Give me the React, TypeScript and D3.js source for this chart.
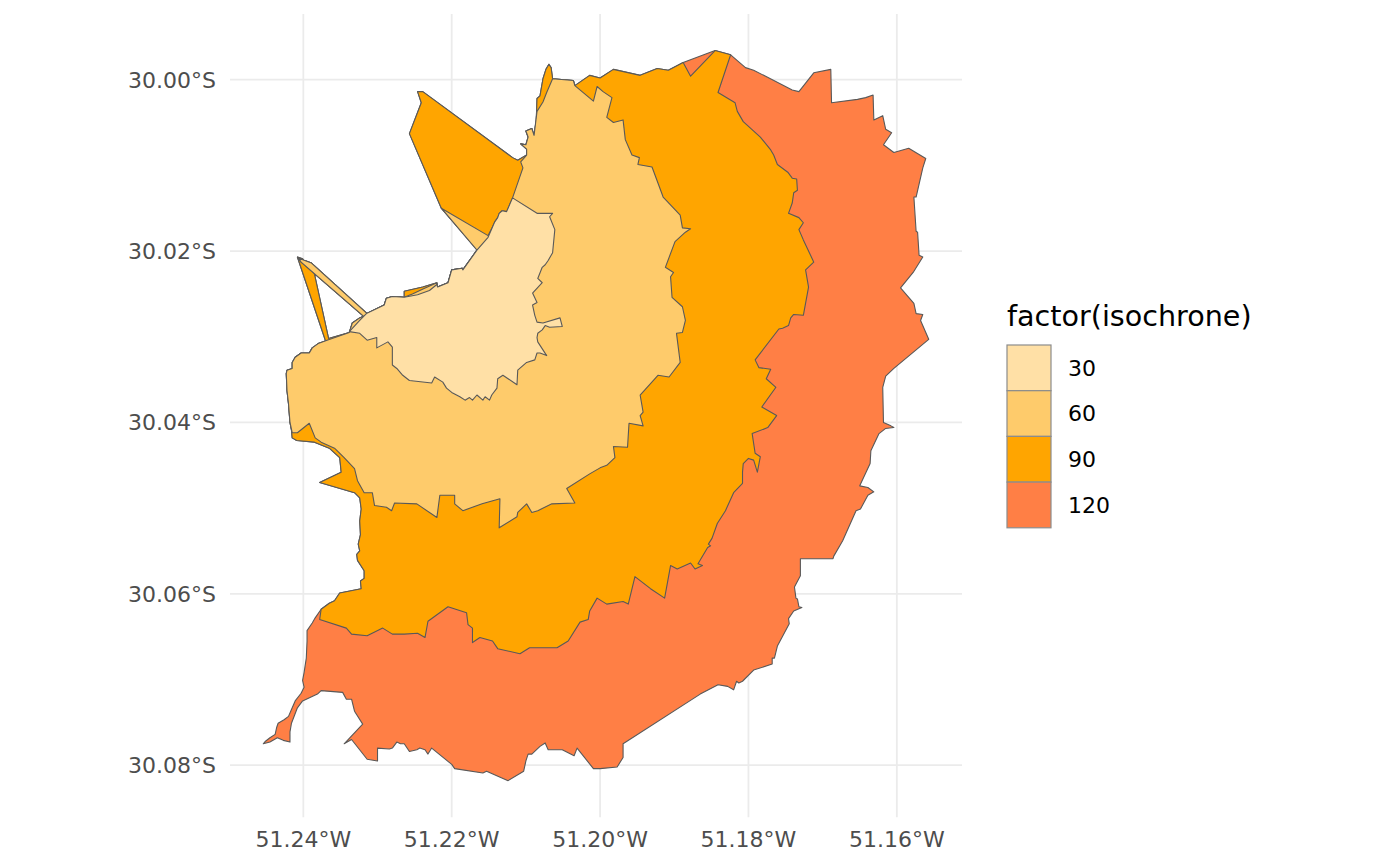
import React, { useEffect, useRef } from 'react';
import * as d3 from 'd3';

type Pt = [number, number];

const isochrones = ['30', '60', '90', '120'];
const fills = ['#FFE0A6', '#FECB6B', '#FFA500', '#FF7F45'];

const lonTicks = [-51.24, -51.22, -51.2, -51.18, -51.16];
const latTicks = [-30.0, -30.02, -30.04, -30.06, -30.08];

// north rim: strip corner, NW blob, top edge up to the 120 notch
const northRim: Pt[] = [
  [-51.2166, -30.0198], [-51.2212, -30.0152], [-51.2214, -30.015], [-51.2257, -30.0063],
  [-51.2241, -30.0027], [-51.2246, -30.0014], [-51.2239, -30.0014], [-51.2118, -30.0091],
  [-51.2111, -30.0094], [-51.2099, -30.0088], [-51.2099, -30.0081], [-51.2107, -30.0075],
  [-51.21, -30.0076], [-51.2097, -30.0067], [-51.21, -30.006], [-51.2092, -30.0057],
  [-51.2089, -30.0065], [-51.2086, -30.0047], [-51.2085, -30.0022], [-51.2081, -30.0019],
  [-51.2077, -29.9999], [-51.2073, -29.9988], [-51.2069, -29.9982], [-51.2066, -29.9986],
  [-51.2064, -29.9999], [-51.2036, -30.0001], [-51.2034, -30.0007], [-51.2014, -29.9995],
  [-51.2, -29.9998], [-51.1982, -29.9988], [-51.1946, -29.9995], [-51.1923, -29.9987],
  [-51.1908, -29.9989], [-51.1888, -29.998],
];

const notch90: Pt[] = [[-51.1878, -29.9996]];
const topCap: Pt[] = [[-51.1845, -29.9966], [-51.1824, -29.9971]];

// outer edge of the 120 min area: east, south, south-west tail
const eastRim: Pt[] = [
  [-51.1804, -29.9986], [-51.1793, -29.9989], [-51.1741, -30.0012], [-51.1732, -30.0014],
  [-51.1712, -29.9992], [-51.1689, -29.9988], [-51.1688, -30.0027], [-51.1653, -30.0023],
  [-51.1642, -30.0021], [-51.1632, -30.0018], [-51.1631, -30.0047], [-51.1619, -30.0042],
  [-51.1615, -30.0058], [-51.1607, -30.0062], [-51.1618, -30.0076], [-51.1604, -30.0085],
  [-51.1584, -30.008], [-51.1561, -30.0092], [-51.1565, -30.0103], [-51.1574, -30.0137],
  [-51.1577, -30.0137], [-51.1574, -30.0177], [-51.1572, -30.0178], [-51.157, -30.0205],
  [-51.1565, -30.0207], [-51.1578, -30.0225], [-51.1595, -30.0243], [-51.1577, -30.0261],
  [-51.1574, -30.0273], [-51.1565, -30.0274], [-51.1568, -30.0281], [-51.1557, -30.0303],
  [-51.1604, -30.0337], [-51.1615, -30.0346], [-51.1619, -30.0359], [-51.1618, -30.04],
  [-51.1608, -30.0404], [-51.1604, -30.0406], [-51.1615, -30.0407], [-51.1624, -30.0413],
  [-51.1635, -30.0433], [-51.1636, -30.0448], [-51.165, -30.0474], [-51.1639, -30.0476],
  [-51.1631, -30.0481], [-51.1639, -30.0485], [-51.1649, -30.0501], [-51.1655, -30.0503],
  [-51.1673, -30.0538], [-51.1685, -30.0556], [-51.1686, -30.0559], [-51.173, -30.0559],
  [-51.173, -30.0579], [-51.1738, -30.0592], [-51.1736, -30.0605], [-51.1734, -30.0606],
  [-51.1732, -30.0615], [-51.1728, -30.0616], [-51.1739, -30.062], [-51.1746, -30.0629],
  [-51.1745, -30.0635], [-51.1761, -30.0661], [-51.1765, -30.0675], [-51.1768, -30.0675],
  [-51.1768, -30.0682], [-51.1793, -30.0689], [-51.1808, -30.0702], [-51.1813, -30.0704],
  [-51.1816, -30.0702], [-51.182, -30.0712], [-51.1828, -30.0708], [-51.1841, -30.0706],
  [-51.1865, -30.0717], [-51.1969, -30.0775], [-51.1969, -30.0791], [-51.1977, -30.0802],
  [-51.2, -30.0804], [-51.2009, -30.0804], [-51.2031, -30.078], [-51.2035, -30.0789],
  [-51.2051, -30.0782], [-51.207, -30.0782], [-51.2074, -30.0774], [-51.2081, -30.0778],
  [-51.2092, -30.0787], [-51.2097, -30.0787], [-51.21, -30.0795], [-51.2103, -30.0807],
  [-51.2124, -30.0818], [-51.2153, -30.0807], [-51.2158, -30.0809], [-51.2196, -30.0804],
  [-51.22, -30.0799], [-51.2227, -30.078], [-51.2232, -30.0787], [-51.2236, -30.0782],
  [-51.2243, -30.078], [-51.2247, -30.0782], [-51.2257, -30.0784], [-51.2264, -30.0775],
  [-51.2269, -30.0775], [-51.2274, -30.0773], [-51.228, -30.078], [-51.2284, -30.0781],
  [-51.23, -30.078], [-51.23, -30.0795], [-51.2314, -30.0793], [-51.2335, -30.077],
  [-51.2345, -30.0775], [-51.232, -30.0752], [-51.2331, -30.0737], [-51.2335, -30.0723],
  [-51.2342, -30.0723], [-51.2347, -30.0715], [-51.2376, -30.0713], [-51.2381, -30.0717],
  [-51.2401, -30.0725], [-51.2408, -30.0733], [-51.2412, -30.0742], [-51.2416, -30.0751],
  [-51.2418, -30.0761], [-51.2418, -30.0773], [-51.2427, -30.0771], [-51.2435, -30.0768],
  [-51.2445, -30.0773], [-51.2454, -30.0775], [-51.2451, -30.0772], [-51.2445, -30.0768],
  [-51.2438, -30.0764], [-51.2436, -30.0756], [-51.2434, -30.0751], [-51.2426, -30.0747],
  [-51.242, -30.0743], [-51.2416, -30.0735], [-51.2411, -30.0725], [-51.2403, -30.0716],
  [-51.2399, -30.0709], [-51.2401, -30.0701], [-51.2399, -30.0692], [-51.2396, -30.0675],
  [-51.2395, -30.0655], [-51.2395, -30.0643], [-51.2388, -30.0634], [-51.2384, -30.0628],
];

// boundary between the 90 and 120 min areas, north to south-west
const border90to120: Pt[] = [
  [-51.1841, -30.0015], [-51.1818, -30.0027], [-51.1815, -30.0037], [-51.1807, -30.0049],
  [-51.1784, -30.0067], [-51.177, -30.0082], [-51.1766, -30.0088], [-51.1761, -30.0099],
  [-51.1747, -30.0108], [-51.1741, -30.0115], [-51.1735, -30.0116], [-51.1734, -30.0129],
  [-51.1739, -30.0132], [-51.1741, -30.0144], [-51.1746, -30.0156], [-51.1732, -30.0161],
  [-51.1726, -30.0167], [-51.1732, -30.0175], [-51.1726, -30.0187], [-51.1713, -30.0211],
  [-51.1712, -30.0213], [-51.1723, -30.0222], [-51.1719, -30.0242], [-51.1726, -30.0275],
  [-51.1739, -30.0274], [-51.1743, -30.0278], [-51.1746, -30.0287], [-51.1754, -30.029],
  [-51.1759, -30.0291], [-51.1791, -30.0327], [-51.1786, -30.0336], [-51.177, -30.0338],
  [-51.1776, -30.0349], [-51.1763, -30.0359], [-51.1782, -30.0382], [-51.1762, -30.0392],
  [-51.1774, -30.0406], [-51.1795, -30.0413], [-51.1791, -30.0436], [-51.1784, -30.044],
  [-51.1788, -30.0458], [-51.1793, -30.0444], [-51.18, -30.0442], [-51.1807, -30.0448],
  [-51.1808, -30.0458], [-51.1808, -30.0471], [-51.182, -30.0482], [-51.1831, -30.0503],
  [-51.1842, -30.0518], [-51.1849, -30.0535], [-51.1854, -30.0542], [-51.1851, -30.0544],
  [-51.1855, -30.0546], [-51.1868, -30.0565], [-51.1862, -30.0567], [-51.1872, -30.0571],
  [-51.1878, -30.0564], [-51.1896, -30.0571], [-51.1905, -30.0567], [-51.1913, -30.0605],
  [-51.1932, -30.0594], [-51.1953, -30.058], [-51.1962, -30.0612], [-51.1969, -30.0609],
  [-51.1991, -30.0612], [-51.2004, -30.0605], [-51.2014, -30.062], [-51.2016, -30.063],
  [-51.2027, -30.0633], [-51.2043, -30.0655], [-51.2058, -30.0663], [-51.2095, -30.0663],
  [-51.2108, -30.067], [-51.2138, -30.0664], [-51.2145, -30.0655], [-51.2162, -30.0651],
  [-51.2169, -30.0655], [-51.2172, -30.0657], [-51.2172, -30.064], [-51.2178, -30.0636],
  [-51.218, -30.0622], [-51.2205, -30.0615], [-51.2232, -30.0632], [-51.2236, -30.0651],
  [-51.2246, -30.0646], [-51.2264, -30.0647], [-51.228, -30.0647], [-51.2293, -30.064],
  [-51.2314, -30.0649], [-51.2335, -30.0647], [-51.2342, -30.064], [-51.2378, -30.063],
];

// west edge of the 90 min area
const westRim: Pt[] = [
  [-51.2376, -30.0618], [-51.2365, -30.0611], [-51.2358, -30.0608], [-51.2351, -30.0599],
  [-51.2322, -30.0594], [-51.2323, -30.0585], [-51.2318, -30.0582], [-51.2318, -30.0573],
  [-51.2327, -30.0561], [-51.2328, -30.0554], [-51.2324, -30.055], [-51.2326, -30.0542],
  [-51.2323, -30.0531], [-51.2324, -30.0515], [-51.2322, -30.0501], [-51.2324, -30.0488],
  [-51.2331, -30.0482], [-51.2378, -30.047], [-51.2349, -30.0458], [-51.2351, -30.0441],
  [-51.2365, -30.043], [-51.2385, -30.0423], [-51.2409, -30.0421], [-51.2415, -30.0418],
  [-51.2416, -30.0409],
];

const westShared: Pt[] = [
  [-51.2418, -30.04], [-51.2419, -30.0389], [-51.242, -30.0378], [-51.2422, -30.0363],
  [-51.2423, -30.0343], [-51.2422, -30.0339], [-51.2415, -30.0337], [-51.2415, -30.033],
  [-51.2411, -30.0324], [-51.2403, -30.0319], [-51.2392, -30.0319], [-51.2388, -30.0313],
  [-51.238, -30.0308],
];

const spikeLeft: Pt[] = [
  [-51.237, -30.0305], [-51.2408, -30.0207], [-51.2401, -30.0209], [-51.2385, -30.0227],
  [-51.2366, -30.0302],
];
const spikeJoin60: Pt[] = [[-51.2368, -30.0304]];

const bodyTop: Pt[] = [
  [-51.2338, -30.0295], [-51.2334, -30.0284], [-51.2324, -30.0278], [-51.2319, -30.0276],
];
const spikeRight: Pt[] = [
  [-51.2403, -30.0213], [-51.2407, -30.0208], [-51.2389, -30.0214], [-51.2314, -30.0273],
];

// top edge of the 30 min area, with small 90 / 60 slivers above it
const crest30West: Pt[] = [
  [-51.2291, -30.0263], [-51.2288, -30.0255], [-51.228, -30.0253], [-51.2264, -30.0254],
];
const sliver90: Pt[] = [[-51.2264, -30.0247], [-51.2239, -30.0242], [-51.222, -30.0237]];
const sliver60: Pt[] = [[-51.2253, -30.025], [-51.2238, -30.0244], [-51.222, -30.0237]];
const sliver30: Pt[] = [[-51.2246, -30.0251], [-51.223, -30.0246], [-51.222, -30.0239]];
const crest30Mid: Pt[] = [
  [-51.2219, -30.0242], [-51.2205, -30.0237], [-51.22, -30.0222], [-51.2186, -30.022],
  [-51.2185, -30.0222], [-51.2166, -30.0199],
];

const strip60: Pt[] = [[-51.2212, -30.0152], [-51.2214, -30.015], [-51.2151, -30.0182]];
const stripJoin30: Pt[] = [[-51.2151, -30.0184]];

const crest30East: Pt[] = [
  [-51.2145, -30.0172], [-51.2142, -30.0166], [-51.2138, -30.0161], [-51.2136, -30.0156],
  [-51.2132, -30.0153], [-51.2126, -30.0154], [-51.2118, -30.0138],
];

const blobEdge60: Pt[] = [[-51.2104, -30.0103], [-51.2107, -30.0096]];

const north60: Pt[] = [
  [-51.2099, -30.0088], [-51.2099, -30.0081], [-51.2107, -30.0075], [-51.21, -30.0076],
  [-51.2097, -30.0067], [-51.21, -30.006], [-51.2092, -30.0057], [-51.2089, -30.0065],
  [-51.2085, -30.0037], [-51.2077, -30.0026], [-51.2072, -30.0015], [-51.2064, -29.9999],
  [-51.2036, -30.0001], [-51.2034, -30.0007], [-51.2009, -30.0025],
];

// boundary between the 60 and 90 min areas, north to west
const border60to90: Pt[] = [
  [-51.2004, -30.0008], [-51.1996, -30.0014], [-51.1984, -30.0021], [-51.1991, -30.0044],
  [-51.1982, -30.005], [-51.1969, -30.0047], [-51.1966, -30.007], [-51.1957, -30.0088],
  [-51.1947, -30.0091], [-51.1949, -30.0099], [-51.193, -30.0102], [-51.1915, -30.0137],
  [-51.1892, -30.0158], [-51.1889, -30.0173], [-51.1878, -30.0174], [-51.1885, -30.0178],
  [-51.1899, -30.0189], [-51.1912, -30.0219], [-51.1901, -30.0225], [-51.1905, -30.023],
  [-51.1903, -30.0254], [-51.1889, -30.0265], [-51.1885, -30.0281], [-51.1889, -30.0295],
  [-51.1897, -30.0296], [-51.1892, -30.033], [-51.1907, -30.0347], [-51.1922, -30.0345],
  [-51.1946, -30.0368], [-51.1942, -30.0388], [-51.1946, -30.0392], [-51.1942, -30.0404],
  [-51.1961, -30.0401], [-51.1963, -30.0429], [-51.1982, -30.0428], [-51.198, -30.0441],
  [-51.1991, -30.045], [-51.2, -30.0453], [-51.2014, -30.046], [-51.2045, -30.0477],
  [-51.2034, -30.0494], [-51.2065, -30.0495], [-51.2084, -30.0503], [-51.2092, -30.0505],
  [-51.2099, -30.0495], [-51.2111, -30.0505], [-51.2112, -30.051], [-51.2136, -30.0523],
  [-51.2135, -30.0489], [-51.2159, -30.0495], [-51.2185, -30.0503], [-51.2196, -30.0495],
  [-51.2196, -30.0485], [-51.2216, -30.0485], [-51.222, -30.0511], [-51.2247, -30.0495],
  [-51.2277, -30.0494], [-51.2281, -30.0503], [-51.2288, -30.0499], [-51.2304, -30.0497],
  [-51.2307, -30.0482], [-51.2318, -30.0482], [-51.2327, -30.0468], [-51.2331, -30.0454],
  [-51.2345, -30.0441], [-51.2358, -30.043], [-51.2376, -30.0423], [-51.2384, -30.0418],
  [-51.2392, -30.0401], [-51.2408, -30.0412], [-51.2415, -30.0412],
];

const start30: Pt[] = [[-51.2338, -30.0294], [-51.2324, -30.0281], [-51.2315, -30.0273]];

// boundary between the 30 and 60 min areas, north-east round to west
const border30to60: Pt[] = [
  [-51.2085, -30.0156], [-51.2064, -30.0156], [-51.2068, -30.016], [-51.2061, -30.0175],
  [-51.2064, -30.0202], [-51.207, -30.0211], [-51.2074, -30.0216], [-51.2078, -30.0219],
  [-51.2084, -30.0232], [-51.2078, -30.0237], [-51.2091, -30.0249], [-51.2085, -30.026],
  [-51.2091, -30.0263], [-51.2088, -30.0275], [-51.2085, -30.0283], [-51.2077, -30.0284],
  [-51.2054, -30.0278], [-51.2051, -30.0288], [-51.2068, -30.0289], [-51.2074, -30.0287],
  [-51.2078, -30.0292], [-51.2084, -30.0296], [-51.2085, -30.0301], [-51.2084, -30.0306],
  [-51.2072, -30.0322], [-51.2081, -30.0319], [-51.2085, -30.0319], [-51.2088, -30.0327],
  [-51.2099, -30.033], [-51.2111, -30.0339], [-51.2112, -30.0356], [-51.2124, -30.0349],
  [-51.2131, -30.0345], [-51.2138, -30.0349], [-51.2139, -30.036], [-51.2146, -30.0368],
  [-51.2149, -30.0374], [-51.2155, -30.037], [-51.2158, -30.0374], [-51.2166, -30.0368],
  [-51.2172, -30.0374], [-51.2176, -30.0371], [-51.2182, -30.0374], [-51.2189, -30.037],
  [-51.22, -30.0365], [-51.2207, -30.036], [-51.2212, -30.0353], [-51.2223, -30.0347],
  [-51.2227, -30.0354], [-51.2257, -30.0351], [-51.2266, -30.0345], [-51.2274, -30.0337],
  [-51.228, -30.0333], [-51.228, -30.0312], [-51.2286, -30.0306], [-51.2301, -30.0313],
  [-51.2301, -30.0301], [-51.2314, -30.0304], [-51.2324, -30.0296],
];

const westBend: Pt[] = [[-51.2416, -30.0409]];

const iso120: Pt[] = [
  ...northRim, ...topCap, ...eastRim, ...westRim, ...westBend, ...westShared,
  ...spikeLeft, ...bodyTop, ...spikeRight, ...crest30West, ...sliver90, ...crest30Mid,
];
const iso90: Pt[] = [
  ...northRim, ...notch90, ...topCap, ...border90to120, ...westRim, ...westBend,
  ...westShared, ...spikeLeft, ...bodyTop, ...spikeRight, ...crest30West, ...sliver90,
  ...crest30Mid,
];
const iso60: Pt[] = [
  ...westShared, ...spikeJoin60, ...bodyTop, ...spikeRight, ...crest30West, ...sliver60,
  ...crest30Mid, ...strip60, ...crest30East, ...blobEdge60, ...north60, ...border60to90,
];
const iso30: Pt[] = [
  ...start30, ...crest30West, ...sliver30, ...crest30Mid, ...stripJoin30, ...crest30East,
  ...border30to60,
];

const polygons = [iso30, iso60, iso90, iso120];

export default function App() {
  const svgRef = useRef<SVGSVGElement>(null);

  useEffect(() => {
    if (!svgRef.current) return;
    const svg = d3.select(svgRef.current);
    svg.selectAll('*').remove();

    const font = 'DejaVu Sans, sans-serif';
    const panel = { left: 230, right: 962, top: 14 };

    // ggplot-style 5% expansion, aspect 1/cos(lat)
    const [lonMin, lonMax] = d3.extent(iso120, d => d[0]) as [number, number];
    const [latMin, latMax] = d3.extent(iso120, d => d[1]) as [number, number];
    const lonPad = (lonMax - lonMin) * 0.05;
    const latPad = (latMax - latMin) * 0.05;
    const x = d3
      .scaleLinear()
      .domain([lonMin - lonPad, lonMax + lonPad])
      .range([panel.left, panel.right]);
    const pxPerLon = (panel.right - panel.left) / (lonMax - lonMin + 2 * lonPad);
    const pxPerLat = pxPerLon / Math.cos((((latMin + latMax) / 2) * Math.PI) / 180);
    const panelBottom = panel.top + (latMax - latMin + 2 * latPad) * pxPerLat;
    const y = d3
      .scaleLinear()
      .domain([latMax + latPad, latMin - latPad])
      .range([panel.top, panelBottom]);

    // graticule
    svg
      .append('g')
      .selectAll('line')
      .data(lonTicks)
      .enter()
      .append('line')
      .attr('x1', d => x(d))
      .attr('x2', d => x(d))
      .attr('y1', panel.top)
      .attr('y2', panelBottom)
      .attr('stroke', '#EBEBEB')
      .attr('stroke-width', 1.8);
    svg
      .append('g')
      .selectAll('line')
      .data(latTicks)
      .enter()
      .append('line')
      .attr('x1', panel.left)
      .attr('x2', panel.right)
      .attr('y1', d => y(d))
      .attr('y2', d => y(d))
      .attr('stroke', '#EBEBEB')
      .attr('stroke-width', 1.8);

    // isochrones, largest first
    const line = d3
      .line<Pt>()
      .x(d => x(d[0]))
      .y(d => y(d[1]));
    const order = [3, 2, 1, 0];
    svg
      .append('g')
      .selectAll('path')
      .data(order)
      .enter()
      .append('path')
      .attr('d', i => (line(polygons[i]) ?? '') + 'Z')
      .attr('fill', i => fills[i])
      .attr('stroke', '#595959')
      .attr('stroke-width', 1.1)
      .attr('stroke-linejoin', 'round');

    // axis labels
    svg
      .append('g')
      .selectAll('text')
      .data(latTicks)
      .enter()
      .append('text')
      .attr('x', 216)
      .attr('y', d => y(d))
      .attr('dy', '0.36em')
      .attr('text-anchor', 'end')
      .attr('fill', '#4D4D4D')
      .attr('font-size', '22px')
      .attr('font-family', font)
      .text(d => `${Math.abs(d).toFixed(2)}°S`);
    svg
      .append('g')
      .selectAll('text')
      .data(lonTicks)
      .enter()
      .append('text')
      .attr('x', d => x(d))
      .attr('y', 847)
      .attr('text-anchor', 'middle')
      .attr('fill', '#4D4D4D')
      .attr('font-size', '22px')
      .attr('font-family', font)
      .text(d => `${Math.abs(d).toFixed(2)}°W`);

    // legend
    const legend = svg.append('g').attr('transform', 'translate(1007, 0)');
    legend
      .append('text')
      .attr('x', 0)
      .attr('y', 326)
      .attr('fill', '#000')
      .attr('font-size', '28.6px')
      .attr('font-family', font)
      .text('factor(isochrone)');
    const keyH = 45.7;
    const keys = legend
      .selectAll('g.key')
      .data(isochrones)
      .enter()
      .append('g')
      .attr('class', 'key')
      .attr('transform', (_, i) => `translate(0, ${345 + i * keyH})`);
    keys
      .append('rect')
      .attr('width', 44)
      .attr('height', keyH)
      .attr('fill', (_, i) => fills[i])
      .attr('stroke', '#8C8C8C')
      .attr('stroke-width', 1.2);
    keys
      .append('text')
      .attr('x', 61)
      .attr('y', keyH / 2)
      .attr('dy', '0.36em')
      .attr('fill', '#000')
      .attr('font-size', '22px')
      .attr('font-family', font)
      .text(d => d);
  }, []);

  return (
    <div>
      <style>{'body { margin: 0; }'}</style>
      <svg ref={svgRef} width={1400} height={866} style={{ display: 'block', background: '#fff' }}></svg>
    </div>
  );
}
